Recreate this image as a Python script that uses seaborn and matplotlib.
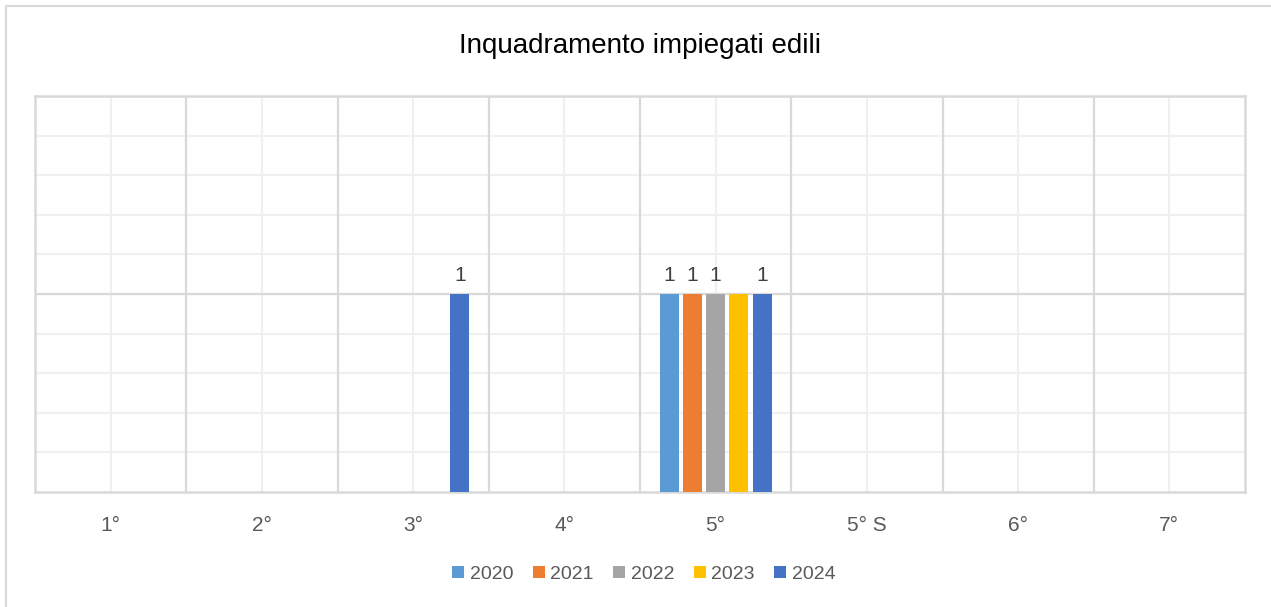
import numpy as np
import pandas as pd
import seaborn as sns
import matplotlib
matplotlib.use("Agg")
import matplotlib.pyplot as plt
from matplotlib.lines import Line2D
from matplotlib.ticker import MultipleLocator, FixedLocator

# ---- data ----
categories = ["1°", "2°", "3°", "4°", "5°", "5° S", "6°", "7°"]
years = ["2020", "2021", "2022", "2023", "2024"]
v2020 = [0, 0, 0, 0, 1, 0, 0, 0]
v2021 = [0, 0, 0, 0, 1, 0, 0, 0]
v2022 = [0, 0, 0, 0, 1, 0, 0, 0]
v2023 = [0, 0, 0, 0, 1, 0, 0, 0]
v2024 = [0, 0, 1, 0, 1, 0, 0, 0]
show_labels = {"2020": True, "2021": True, "2022": True, "2023": False, "2024": True}
colors = ["#5B9BD5", "#ED7D31", "#A5A5A5", "#FFC000", "#4472C4"]
title = "Inquadramento impiegati edili"

series = [v2020, v2021, v2022, v2023, v2024]
rows = []
for y, vals in zip(years, series):
    for c, v in zip(categories, vals):
        rows.append({"cat": c, "year": y, "val": v})
df = pd.DataFrame(rows)

sns.set_theme(style="white")
plt.rcParams["font.family"] = ["Liberation Sans", "DejaVu Sans"]

fig = plt.figure(figsize=(12.71, 6.07), dpi=100)
ax = fig.add_axes([35/1271, 1-492/607, (1245-35)/1271, (492-96)/607])

group_w = 0.77
sns.barplot(data=df, x="cat", y="val", hue="year", order=categories, hue_order=years,
            palette=colors, width=group_w, dodge=True, linewidth=0, ax=ax,
            legend=False, errorbar=None, saturation=1, zorder=3)

bar_w = 0.1256
for cont in ax.containers:
    for p in cont.patches:
        cx = p.get_x() + p.get_width() / 2
        p.set_width(bar_w)
        p.set_x(cx - bar_w / 2)

for cont, y in zip(ax.containers, years):
    for p, v in zip(cont.patches, df[df.year == y]["val"]):
        if v > 0 and show_labels[y]:
            ax.text(p.get_x() + p.get_width() / 2, v + 0.045, f"{v:g}",
                    ha="center", va="bottom", fontsize=15, color="#404040", zorder=4)

ax.set_xlim(-0.5, len(categories) - 0.5)
ax.set_ylim(0, 2)
ax.yaxis.set_major_locator(MultipleLocator(1))
ax.yaxis.set_minor_locator(MultipleLocator(0.2))
ax.set_yticklabels([])
ax.xaxis.set_minor_locator(FixedLocator(np.arange(len(categories))))
ax.set_xticks(np.arange(len(categories)))
ax.set_xticklabels(categories)
ax.grid(False)
# minor grid (light)
for yv in np.arange(0.2, 2.0, 0.2):
    ax.axhline(yv, color="#f0f0f0", lw=1.5, zorder=1)
for xv in np.arange(len(categories)):
    ax.axvline(xv, color="#f0f0f0", lw=1.5, zorder=1)
# major grid
for yv in [1, 2]:
    ax.axhline(yv, color="#d9d9d9", lw=1.6, zorder=2)
for xv in np.arange(0.5, len(categories) - 0.5, 1):
    ax.axvline(xv, color="#d9d9d9", lw=1.6, zorder=2)

ax.tick_params(axis="x", length=0, pad=17, labelsize=15, labelcolor="#595959")
ax.tick_params(axis="y", length=0, which="both")
ax.tick_params(axis="x", which="minor", length=0)
ax.set_xlabel("")
ax.set_ylabel("")
for s in ax.spines.values():
    s.set_color("#d9d9d9")
    s.set_linewidth(1.8)

fig.text(640/1271, 1-46/607, title, ha="center", va="center", fontsize=20, color="#000000")

handles = [Line2D([0], [0], marker="s", linestyle="none", markersize=8.6,
                  markerfacecolor=c, markeredgewidth=0) for c in colors]
fig.legend(handles, years, loc="center", bbox_to_anchor=(644/1271, 1-574/607), ncol=5,
           frameon=False, fontsize=14, handletextpad=0.3, columnspacing=1.0,
           labelcolor="#595959", handlelength=0.6)

# chart border (left and top)
fig.add_artist(Line2D([5.5/1271, 5.5/1271], [0, 1-5.5/607], transform=fig.transFigure,
                      color="#d9d9d9", lw=1.5))
fig.add_artist(Line2D([5.5/1271, 1], [1-5.5/607, 1-5.5/607], transform=fig.transFigure,
                      color="#d9d9d9", lw=1.5))

fig.savefig("out.png", dpi=100)
